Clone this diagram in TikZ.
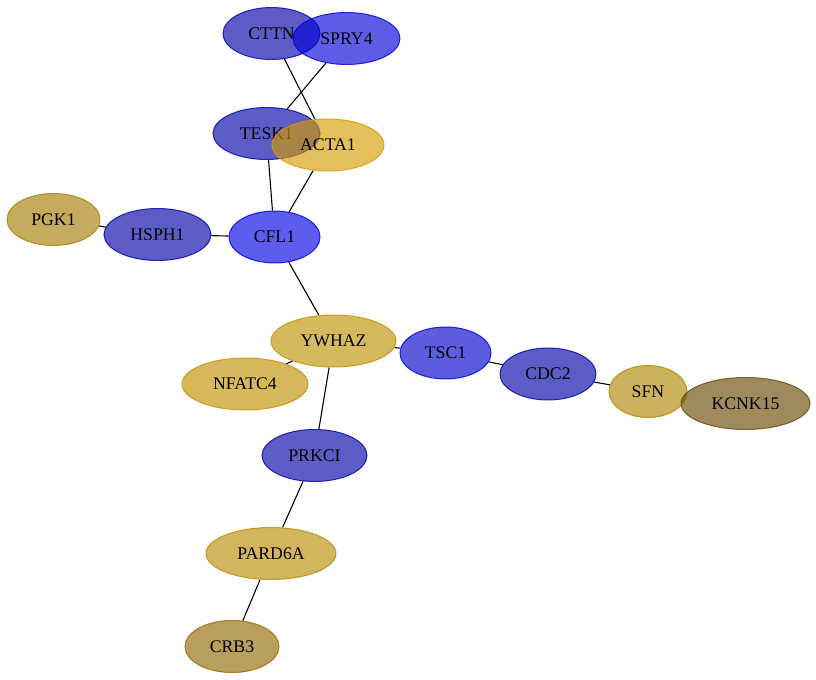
\documentclass[tikz,border=0pt]{standalone}
\usepackage{fontspec}
\setmainfont{Liberation Serif}
\usetikzlibrary{shapes.geometric,backgrounds}
\definecolor{bluemid}{RGB}{0,0,168}
\definecolor{bluehi}{RGB}{0,0,228}
\definecolor{bluesp}{RGB}{0,0,216}
\definecolor{bluetsc}{RGB}{0,0,205}
\definecolor{goldacta}{RGB}{213,156,0}
\definecolor{goldywhaz}{RGB}{189,145,3}
\definecolor{goldnfat}{RGB}{192,145,0}
\definecolor{goldpard}{RGB}{184,140,3}
\definecolor{goldpgk}{RGB}{165,124,3}
\definecolor{goldcrb}{RGB}{146,105,0}
\definecolor{goldsfn}{RGB}{176,134,0}
\definecolor{olivekcnk}{RGB}{101,74,3}
\tikzset{
  gene/.style={ellipse, inner sep=0pt, minimum height=52bp, fill=#1, draw=#1,
    fill opacity=0.64, draw opacity=0.8, text opacity=1, line width=1bp,
    font=\fontsize{17.8}{20}\selectfont},
  link/.style={black, line width=1.1bp},
}
\begin{document}
\begin{tikzpicture}[x=1bp, y=-1bp]
	  \useasboundingbox (0,0) rectangle (816,680);
	  % proteins
	  \node[gene=bluemid, minimum width=97bp] (cttn) at (271.5,33.5) {CTTN};
	  \node[gene=bluesp, minimum width=107bp] (spry4) at (346.5,38.5) {SPRY4};
	  \node[gene=bluemid, minimum width=107bp] (tesk1) at (266.5,133.5) {TESK1};
	  \node[gene=goldacta, minimum width=112bp] (acta1) at (328,145) {ACTA1};
	  \node[gene=goldpgk, minimum width=93bp] (pgk1) at (53.5,219.5) {PGK1};
	  \node[gene=bluemid, minimum width=107bp] (hsph1) at (157.5,234.5) {HSPH1};
	  \node[gene=bluehi, minimum width=91bp] (cfl1) at (274.5,237) {CFL1};
	  \node[gene=goldywhaz, minimum width=125bp] (ywhaz) at (333.5,341) {YWHAZ};
	  \node[gene=goldnfat, minimum width=126bp] (nfatc4) at (245,384) {NFATC4};
	  \node[gene=bluetsc, minimum width=91bp] (tsc1) at (445.5,353) {TSC1};
	  \node[gene=bluemid, minimum width=96bp] (cdc2) at (548,374) {CDC2};
	  \node[gene=goldsfn, minimum width=78bp] (sfn) at (648,391.5) {SFN};
	  \node[gene=olivekcnk, minimum width=129bp] (kcnk15) at (745.5,403.5) {KCNK15};
	  \node[gene=bluemid, minimum width=105bp] (prkci) at (314.5,455.5) {PRKCI};
	  \node[gene=goldpard, minimum width=130bp] (pard6a) at (271,553.5) {PARD6A};
	  \node[gene=goldcrb, minimum width=94bp] (crb3) at (232,646.5) {CRB3};
	  % interactions
	  \begin{scope}[on background layer]
	  \draw[link] (cttn) -- (acta1);
	  \draw[link] (spry4) -- (tesk1);
	  \draw[link] (tesk1) -- (cfl1);
	  \draw[link] (acta1) -- (cfl1);
	  \draw[link] (pgk1) -- (hsph1);
	  \draw[link] (hsph1) -- (cfl1);
	  \draw[link] (cfl1) -- (ywhaz);
	  \draw[link] (ywhaz) -- (nfatc4);
	  \draw[link] (ywhaz) -- (tsc1);
	  \draw[link] (ywhaz) -- (prkci);
	  \draw[link] (tsc1) -- (cdc2);
	  \draw[link] (cdc2) -- (sfn);
	  \draw[link] (prkci) -- (pard6a);
	  \draw[link] (pard6a) -- (crb3);
	  \end{scope}
	\end{tikzpicture}
\end{document}
